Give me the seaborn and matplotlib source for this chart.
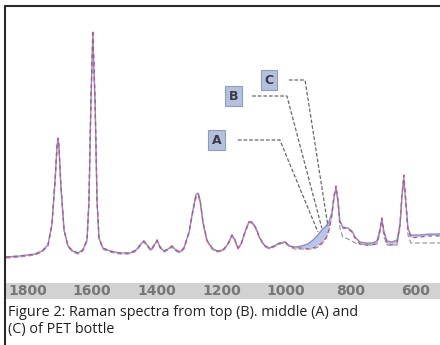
import numpy as np
import pandas as pd
import matplotlib
matplotlib.use("Agg")
import matplotlib.pyplot as plt
from matplotlib.patches import Rectangle
from matplotlib.lines import Line2D
import seaborn as sns

# wavenumbers (cm-1)
wavenumber = [1867, 1824, 1777, 1755, 1737, 1725, 1715, 1709, 1706, 1703,
              1697, 1687, 1675, 1660, 1644, 1629, 1616, 1610, 1604, 1598,
              1591, 1585, 1579, 1567, 1545, 1514, 1483, 1464, 1449, 1440,
              1430, 1418, 1406, 1399, 1390, 1378, 1365, 1353, 1341, 1328,
              1316, 1300, 1288, 1279, 1272, 1266, 1257, 1245, 1229, 1214,
              1195, 1180, 1167, 1158, 1149, 1139, 1127, 1115, 1105, 1093,
              1081, 1065, 1050, 1031, 1019, 1003, 988, 972, 951, 932,
              916, 901, 889, 876, 867, 858, 851, 845, 839, 833,
              824, 808, 796, 786, 771, 752, 734, 718, 709, 703,
              697, 687, 672, 656, 647, 641, 635, 629, 622, 613,
              585, 554, 523]

# top of bottle (B)
spec_B = [26, 27, 29, 32, 38, 58, 103, 138, 145, 138,
          98, 53, 37, 32, 30, 33, 43, 83, 183, 253,
          183, 83, 45, 35, 32, 30, 30, 33, 39, 42,
          38, 33, 39, 43, 36, 32, 34, 37, 33, 31,
          35, 51, 73, 87, 89, 83, 61, 43, 35, 32,
          33, 39, 48, 43, 35, 39, 51, 61, 61, 55,
          45, 37, 35, 38, 40, 41, 37, 35, 35, 34,
          35, 37, 40, 45, 53, 68, 88, 97, 83, 61,
          55, 54, 51, 45, 39, 38, 38, 40, 53, 65,
          51, 39, 38, 40, 58, 88, 108, 83, 53, 45,
          46, 47, 47]

# middle of bottle (A)
spec_A = [26, 27, 29, 32, 38, 58, 102, 137, 144, 137,
          97, 53, 37, 32, 30, 33, 43, 82, 180, 248,
          180, 82, 45, 35, 32, 30, 30, 33, 39, 42,
          38, 33, 39, 43, 36, 32, 34, 37, 33, 31,
          35, 51, 73, 88, 90, 83, 61, 43, 35, 32,
          33, 39, 48, 43, 35, 39, 51, 61, 61, 55,
          45, 37, 35, 38, 40, 41, 37, 36, 37, 39,
          43, 48, 53, 57, 61, 70, 86, 95, 83, 62,
          56, 55, 52, 46, 41, 40, 40, 42, 53, 64,
          52, 42, 41, 43, 58, 86, 104, 82, 54, 48,
          48, 49, 49]

# bottom of bottle (C)
spec_C = [25, 26, 28, 31, 37, 57, 100, 134, 140, 134,
          96, 52, 36, 31, 29, 32, 42, 81, 178, 245,
          178, 81, 44, 34, 31, 29, 29, 32, 38, 41,
          37, 32, 38, 42, 35, 31, 33, 36, 32, 30,
          34, 50, 71, 85, 87, 81, 60, 42, 34, 31,
          32, 38, 47, 42, 34, 38, 50, 60, 60, 54,
          44, 36, 34, 37, 39, 40, 36, 34, 34, 34,
          34, 36, 39, 44, 52, 66, 86, 95, 80, 55,
          46, 44, 42, 40, 39, 38, 38, 39, 50, 63,
          47, 38, 38, 38, 55, 86, 106, 80, 48, 40,
          40, 40, 40]

tick_values = [1800, 1600, 1400, 1200, 1000, 800, 600]
labels = ["A", "B", "C"]
label_pos = [(1214, 143), (1161, 187), (1053, 203)]
leader_w = [[1149, 1019, 901], [1105, 997, 889], [991, 941, 870]]
leader_i = [[143, 143, 51], [187, 187, 55], [203, 203, 57]]

sns.set_style("white")
plt.rcParams["font.family"] = ["Open Sans", "DejaVu Sans"]

fig = plt.figure(figsize=(4.4, 3.45), dpi=100)

# gray band under the spectra (drawn behind the axes tick labels)
fig.patches.append(Rectangle((5 / 440, 46 / 345), 435 / 440, 16 / 345,
                             transform=fig.transFigure, fc="#d2d2d2", ec="none", zorder=-5))

ax = fig.add_axes([5 / 440, 62 / 345, 435 / 440, 277 / 345])

df = pd.DataFrame({"wn": wavenumber, "A": spec_A, "B": spec_B, "C": spec_C})

ax.fill_between(df["wn"], df["B"], df["A"], where=df["A"] > df["B"],
                color="#a9b8e4", alpha=0.8, lw=0, interpolate=True)
sns.lineplot(data=df, x="wn", y="C", ax=ax, color="#9a9aa8", lw=0.9,
             linestyle=(0, (4, 2)), estimator=None, sort=False)
sns.lineplot(data=df, x="wn", y="A", ax=ax, color="#8c8cd2", lw=1.0,
             estimator=None, sort=False)
sns.lineplot(data=df, x="wn", y="B", ax=ax, color="#c8506e", lw=0.9,
             linestyle=(0, (3, 3)), estimator=None, sort=False)

# leader lines and boxed labels
for lab, (lw_, li_), pos in zip(labels, zip(leader_w, leader_i), label_pos):
    ax.plot(lw_, li_, color="#6a6a6a", lw=0.9, linestyle=(0, (3, 1.5)))
    ax.text(pos[0], pos[1], lab, ha="center", va="center", fontsize=9,
            fontweight="bold", color="#3a3a4a", family="DejaVu Sans",
            bbox=dict(boxstyle="square,pad=0.3", fc="#b4c0de", ec="#8e9cc0", lw=0.8))

ax.set_xlim(1870, 523)
ax.set_ylim(0, 277)
ax.set_xticks(tick_values)
ax.set_xticklabels([str(t) for t in tick_values], fontsize=10,
                   fontweight="bold", color="#767676", family="DejaVu Sans")
ax.tick_params(axis="x", length=0, pad=1)
ax.set_yticks([])
ax.set_xlabel("")
ax.set_ylabel("")
for s in ax.spines.values():
    s.set_visible(False)

# frame lines
fig.lines.append(Line2D([5 / 440, 5 / 440], [0, 339 / 345], transform=fig.transFigure,
                        color="#2a2a2a", lw=1.5))
fig.lines.append(Line2D([5 / 440, 1], [339 / 345, 339 / 345], transform=fig.transFigure,
                        color="#2a2a2a", lw=1.5))

fig.text(8 / 440, 1 - 321 / 345,
         "Figure 2: Raman spectra from top (B). middle (A) and\n(C) of PET bottle",
         fontsize=10.4, color="#222222", va="center", ha="left", linespacing=1.2)

fig.savefig("out.png", dpi=100)
